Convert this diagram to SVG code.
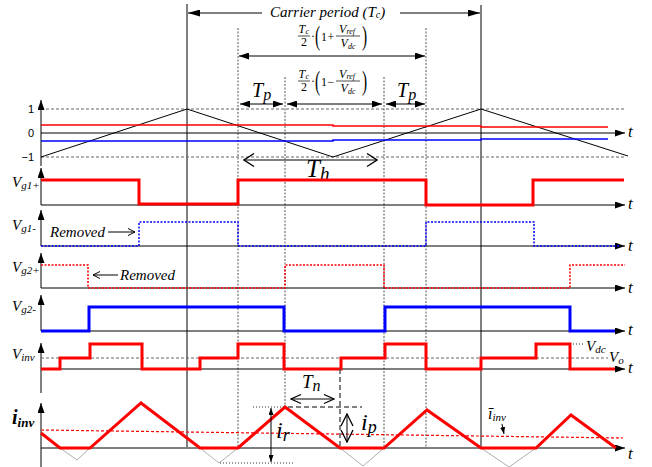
<svg xmlns="http://www.w3.org/2000/svg" width="652" height="467" viewBox="0 0 652 467">
<style>
.it{font-family:"Liberation Serif","Times New Roman",serif;font-style:italic;fill:#000}
.rm{font-family:"Liberation Serif","Times New Roman",serif;fill:#000}
.sans{font-family:"Liberation Sans",Arial,sans-serif;font-size:11px;fill:#000}
.ax{stroke:#000;stroke-width:1;fill:none}
.grid{stroke:#666;stroke-width:1;stroke-dasharray:3,2;fill:none}
.vdot{stroke:#555;stroke-width:1;stroke-dasharray:2,1.5;fill:none}
.r3{stroke:#ff0000;stroke-width:3;fill:none}
.b3{stroke:#0000ff;stroke-width:3;fill:none}
.rd{stroke:#ff0000;stroke-width:1.5;stroke-dasharray:2,1.5;fill:none}
.bd{stroke:#0000ff;stroke-width:1.5;stroke-dasharray:2,1.5;fill:none}
.thin{stroke:#000;stroke-width:1;fill:none}
.gd{stroke:#555;stroke-width:1.5;stroke-dasharray:5,3;fill:none}
.kd{stroke:#333;stroke-width:1;stroke-dasharray:1,2;fill:none}
.gv{stroke:#999;stroke-width:0.8;fill:none}
.fb{stroke:#000;stroke-width:0.7}
</style>
<defs>
<marker id="fa" viewBox="0 0 10 7" refX="10" refY="3.5" markerWidth="10" markerHeight="7" markerUnits="userSpaceOnUse" orient="auto-start-reverse"><path d="M0,0 L10,3.5 L0,7 Z" fill="#000"/></marker>
<marker id="fb" viewBox="0 0 12 7" refX="12" refY="3.5" markerWidth="12" markerHeight="7" markerUnits="userSpaceOnUse" orient="auto-start-reverse"><path d="M0,0 L12,3.5 L0,7 Z" fill="#000"/></marker>
<marker id="fs" viewBox="0 0 7 5" refX="7" refY="2.5" markerWidth="7" markerHeight="5" markerUnits="userSpaceOnUse" orient="auto-start-reverse"><path d="M0,0 L7,2.5 L0,5 Z" fill="#000"/></marker>
<marker id="ch" viewBox="-1 -1 12 15" refX="10" refY="6.5" markerWidth="12" markerHeight="15" markerUnits="userSpaceOnUse" orient="auto-start-reverse"><path d="M0,0 L10,6.5 L0,13" fill="none" stroke="#000" stroke-width="1.3"/></marker>
<marker id="cn" viewBox="-1 -1 12 11" refX="10" refY="4.5" markerWidth="12" markerHeight="11" markerUnits="userSpaceOnUse" orient="auto-start-reverse"><path d="M0,0 L10,4.5 L0,9" fill="none" stroke="#000" stroke-width="1.2"/></marker>
<marker id="cp" viewBox="-1 -1 14 14" refX="12" refY="6" markerWidth="14" markerHeight="14" markerUnits="userSpaceOnUse" orient="auto-start-reverse"><path d="M0,0 L12,6 L0,12" fill="none" stroke="#000" stroke-width="1.3"/></marker>
<marker id="cs" viewBox="-1 -1 9 9" refX="7" refY="3.5" markerWidth="9" markerHeight="9" markerUnits="userSpaceOnUse" orient="auto-start-reverse"><path d="M0,0 L7,3.5 L0,7" fill="none" stroke="#000" stroke-width="1"/></marker>
</defs>

<g id="guides">
<line class="thin" x1="187" y1="4" x2="187" y2="447"/>
<line class="thin" x1="481" y1="5" x2="481" y2="447"/>
<line class="vdot" x1="238" y1="28" x2="238" y2="447"/>
<line class="vdot" x1="426" y1="28" x2="426" y2="447"/>
<line class="vdot" x1="285" y1="77" x2="285" y2="407"/>
<line class="vdot" x1="384" y1="77" x2="384" y2="447"/>
</g>

<g id="top-dimensions">
<line class="thin" x1="262" y1="13" x2="188" y2="13" marker-end="url(#fb)"/>
<line class="thin" x1="400" y1="13" x2="480" y2="13" marker-end="url(#fb)"/>
<text class="it" x="270" y="16.5" font-size="15">Carrier period (T<tspan font-size="10" dy="1">c</tspan><tspan dy="-1">)</tspan></text>
<line class="thin" x1="239" y1="56" x2="425" y2="56" marker-start="url(#fa)" marker-end="url(#fa)"/>
<line class="thin" x1="240" y1="104" x2="283" y2="104" marker-start="url(#fa)" marker-end="url(#fa)"/>
<line class="thin" x1="287" y1="104" x2="382" y2="104" marker-start="url(#fa)" marker-end="url(#fa)"/>
<line class="thin" x1="386" y1="104" x2="425" y2="104" marker-start="url(#fa)" marker-end="url(#fa)"/>
<g id="formula1" transform="translate(298,36)">
<text class="it" x="0.5" y="-3.5" font-size="12">T</text>
<text class="it" x="7.5" y="-2" font-size="8">c</text>
<line class="fb" x1="0" y1="0" x2="12" y2="0"/>
<text class="rm" x="3" y="10" font-size="12">2</text>
<text class="rm" x="13" y="3.5" font-size="12">·</text>
<text class="rm" transform="translate(17,9) scale(0.55,1)" font-size="28">(</text>
<text class="rm" x="23" y="4.5" font-size="12">1</text>
<text class="rm" x="29.5" y="4.5" font-size="12">+</text>
<text class="it" x="41" y="-3.5" font-size="12">V</text>
<text class="it" x="48.5" y="-2" font-size="8">ref</text>
<line class="fb" x1="38" y1="0" x2="62" y2="0"/>
<text class="it" x="42.5" y="10.5" font-size="12">V</text>
<text class="it" x="50" y="12.5" font-size="8">dc</text>
<text class="rm" transform="translate(64,9) scale(0.55,1)" font-size="28">)</text>
</g>
<g id="formula2" transform="translate(298,81)">
<text class="it" x="0.5" y="-3.5" font-size="12">T</text>
<text class="it" x="7.5" y="-2" font-size="8">c</text>
<line class="fb" x1="0" y1="0" x2="12" y2="0"/>
<text class="rm" x="3" y="10" font-size="12">2</text>
<text class="rm" x="13" y="3.5" font-size="12">·</text>
<text class="rm" transform="translate(17,9) scale(0.55,1)" font-size="28">(</text>
<text class="rm" x="23" y="4.5" font-size="12">1</text>
<text class="rm" x="29.5" y="4.5" font-size="12">−</text>
<text class="it" x="41" y="-3.5" font-size="12">V</text>
<text class="it" x="48.5" y="-2" font-size="8">ref</text>
<line class="fb" x1="38" y1="0" x2="62" y2="0"/>
<text class="it" x="42.5" y="10.5" font-size="12">V</text>
<text class="it" x="50" y="12.5" font-size="8">dc</text>
<text class="rm" transform="translate(64,9) scale(0.55,1)" font-size="28">)</text>
</g>
<text class="it" x="252" y="97" font-size="20">T<tspan font-size="16" dy="3">p</tspan></text>
<text class="it" x="397" y="97" font-size="20">T<tspan font-size="16" dy="3">p</tspan></text>
</g>

<g id="carrier">
<line class="grid" x1="41" y1="109" x2="626" y2="109"/>
<line class="grid" x1="41" y1="157" x2="626" y2="157"/>
<line class="ax" x1="41" y1="166" x2="41" y2="100" marker-end="url(#fa)"/>
<line class="ax" x1="41" y1="133" x2="625" y2="133" marker-end="url(#fa)"/>
<text class="sans" x="34" y="113" text-anchor="end">1</text>
<text class="sans" x="34" y="137" text-anchor="end">0</text>
<text class="sans" x="34" y="161" text-anchor="end">−1</text>
<polyline class="thin" points="41,157 187,109 333,157 481,109 628,156"/>
<polyline points="41,125 333,125 333,126 481,126 481,127 608,127" fill="none" stroke="#ff0000" stroke-width="1.5"/>
<polyline points="41,141 333,141 333,140 481,140 481,139 608,139" fill="none" stroke="#0000ff" stroke-width="1.5"/>
<line class="thin" x1="244" y1="160" x2="377" y2="160" stroke-width="1.3" marker-start="url(#ch)" marker-end="url(#ch)"/>
<text class="it" x="306" y="177" font-size="25">T<tspan font-size="19" dy="3">h</tspan></text>
<text class="it" x="628" y="137" font-size="17">t</text>
</g>

<g id="vg1p">
<line class="ax" x1="41" y1="205" x2="41" y2="168" marker-end="url(#fa)"/>
<line class="ax" x1="41" y1="205" x2="625" y2="205" marker-end="url(#fa)"/>
<polyline class="r3" points="41,180 139,180 139,204 238,204 238,180 426,180 426,205 533,205 533,180 624,180"/>
<text class="it" x="12" y="187" font-size="15">V<tspan font-size="11" dy="2">g1+</tspan></text>
<text class="it" x="628" y="209" font-size="17">t</text>
</g>

<g id="vg1m">
<line class="ax" x1="41" y1="246" x2="41" y2="210" marker-end="url(#fa)"/>
<line class="ax" x1="41" y1="246" x2="625" y2="246" marker-end="url(#fa)"/>
<polyline class="bd" points="41,246 139,246 139,222 238,222 238,246 426,246 426,222 534,222 534,246 620,246"/>
<text class="it" x="12" y="230" font-size="15">V<tspan font-size="11" dy="2">g1-</tspan></text>
<text class="it" x="50" y="237" font-size="15">Removed</text>
<line class="thin" x1="108" y1="232" x2="135" y2="232" marker-end="url(#cs)"/>
<text class="it" x="628" y="251" font-size="17">t</text>
</g>

<g id="vg2p">
<line class="ax" x1="41" y1="288" x2="41" y2="253" marker-end="url(#fa)"/>
<line class="ax" x1="41" y1="288" x2="625" y2="288" marker-end="url(#fa)"/>
<polyline class="rd" points="41,265 88,265 88,288 285,288 285,265 384,265 384,288 570,288 570,265 625,265"/>
<text class="it" x="12" y="272" font-size="15">V<tspan font-size="11" dy="2">g2+</tspan></text>
<line class="thin" x1="118" y1="275" x2="93" y2="275" marker-end="url(#cs)"/>
<text class="it" x="120" y="280" font-size="15">Removed</text>
<text class="it" x="628" y="293" font-size="17">t</text>
</g>

<g id="vg2m">
<line class="ax" x1="41" y1="331" x2="41" y2="295" marker-end="url(#fa)"/>
<line class="ax" x1="41" y1="331" x2="625" y2="331" marker-end="url(#fa)"/>
<polyline class="b3" points="41,331 89,331 89,307 284,307 284,331 385,331 385,307 570,307 570,331 615,331"/>
<text class="it" x="12" y="311" font-size="15">V<tspan font-size="11" dy="2">g2-</tspan></text>
<text class="it" x="628" y="335" font-size="17">t</text>
</g>

<g id="vinv">
<line class="ax" x1="41" y1="393" x2="41" y2="343" marker-end="url(#fa)"/>
<line class="ax" x1="41" y1="369" x2="625" y2="369" marker-end="url(#fa)"/>
<line class="grid" x1="41" y1="358" x2="608" y2="358"/>
<polyline class="r3" points="41,369 60,369 60,358 90,358 90,344 142,344 142,369 200,369 200,358 238,358 238,344 284,344 284,369 341,369 341,358 385,358 385,344 426,344 426,369 481,369 481,358 536,358 536,344 570,344 570,369 615,369"/>
<text class="it" x="12" y="359" font-size="15">V<tspan font-size="11" dy="2">inv</tspan></text>
<line class="kd" x1="573" y1="344" x2="585" y2="344"/>
<text class="it" x="586" y="351" font-size="15">V<tspan font-size="11" dy="2">dc</tspan></text>
<text class="it" x="609" y="362" font-size="15">V<tspan font-size="11" dy="2">o</tspan></text>
<text class="it" x="628" y="373" font-size="17">t</text>
</g>

<g id="iinv">
<line class="ax" x1="41" y1="467" x2="41" y2="403" marker-end="url(#fa)"/>
<line class="ax" x1="41" y1="448" x2="625" y2="448" marker-end="url(#fa)"/>
<line x1="41" y1="430" x2="623" y2="438" stroke="#ff0000" stroke-width="1.2" stroke-dasharray="3,2"/>
<polyline class="gv" points="60,448 77,460 90,448"/>
<polyline class="gv" points="200,448 219,463 238,448"/>
<polyline class="gv" points="340,448 363,466 384,448"/>
<polyline class="gv" points="481,448 509,467 536,448"/>
<polyline class="r3" points="41,433 60,448 90,448 141,403 200,448 238,448 285,407 340,448 384,448 427,410 481,448 536,448 571,415 616,448"/>
<text class="it" x="12" y="424" font-size="20" font-weight="bold">i<tspan font-size="13" dy="3">inv</tspan></text>
<text class="it" x="628" y="459" font-size="17">t</text>
</g>

<g id="annotations">
<line class="kd" x1="253" y1="407" x2="285" y2="407"/>
<line class="gd" x1="288" y1="407" x2="362" y2="407"/>
<line class="gd" x1="340" y1="369" x2="340" y2="448"/>
<line class="kd" x1="220" y1="463" x2="293" y2="463"/>
<line class="thin" x1="291" y1="399" x2="334" y2="399" marker-start="url(#cn)" marker-end="url(#cn)"/>
<text class="it" x="302" y="388" font-size="19">T<tspan font-size="16" dy="3">n</tspan></text>
<line class="thin" x1="271" y1="408" x2="271" y2="462" stroke-width="1.2" marker-start="url(#fs)" marker-end="url(#fs)"/>
<text class="it" x="276" y="438" font-size="24">i<tspan font-size="18" dy="3">r</tspan></text>
<line class="thin" x1="347" y1="414" x2="347" y2="442" stroke-width="1.3" marker-start="url(#cp)" marker-end="url(#cp)"/>
<text class="it" x="361" y="430" font-size="24">i<tspan font-size="18" dy="3">p</tspan></text>
<text class="it" x="488" y="419" font-size="16">ī<tspan font-size="11" dy="2">inv</tspan></text>
<line class="thin" x1="502" y1="424" x2="504" y2="434" marker-end="url(#fs)"/>
</g>
</svg>
